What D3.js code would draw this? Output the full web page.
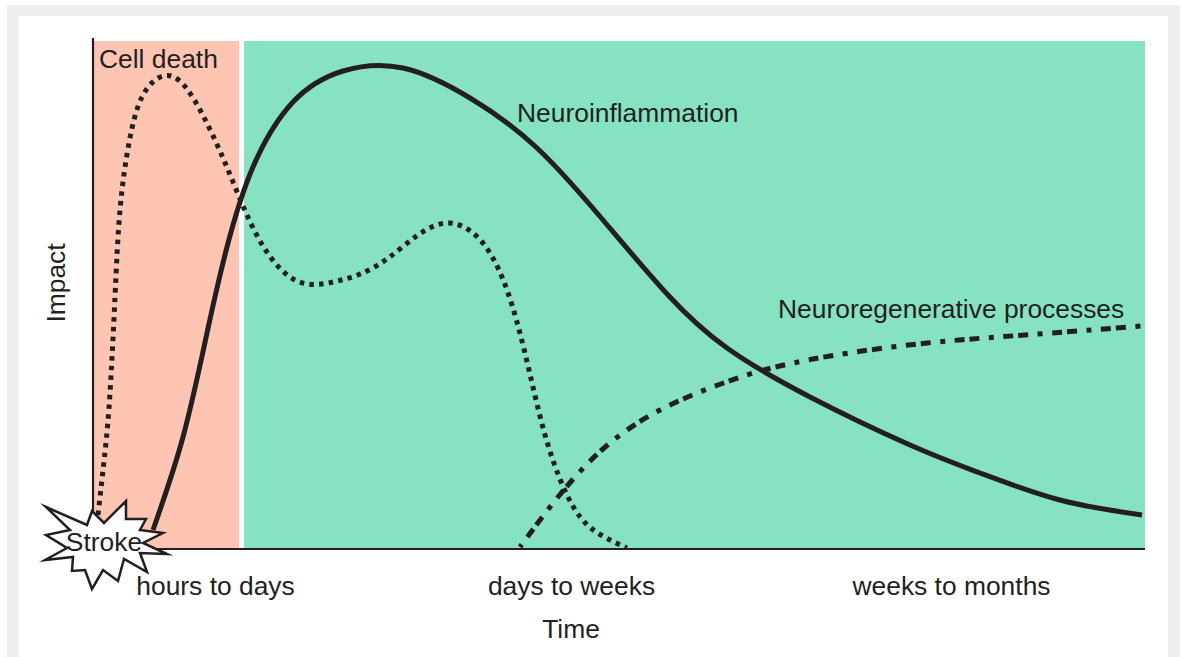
<!DOCTYPE html>
<html lang="en">
<head>
<meta charset="UTF-8" />
<title>Impact over time after stroke</title>
<script src="https://d3js.org/d3.v7.min.js"></script>
<style>
    html, body { margin: 0; padding: 0; background: #fff; }
    svg { display: block; }
    text { font-family: "Liberation Sans", Arial, sans-serif; fill: #231f20; }
</style>
</head>
<body>
<div id="my_dataviz"></div>
<script>
// values (time and impact are in arbitrary units)
var cellDeathT = [5, 12, 17, 22, 27, 36, 49, 70, 94, 122, 145, 170, 204, 240, 267, 294, 325, 354, 380, 401, 419, 436, 455, 481, 508, 534];
var cellDeathV = [34, 97, 156, 252, 339, 406, 452, 473, 460, 409, 355, 303, 268, 267, 275, 290, 314, 326, 316, 289, 244, 179, 104, 41, 14, 1];

var inflammationT = [60, 90, 114, 134, 160, 200, 250, 310, 377, 444, 510, 575, 634, 717, 817, 887, 967, 1049];
var inflammationV = [19, 112, 216, 302, 382, 447, 478, 481, 451, 401, 329, 254, 201, 152, 104, 76, 49, 34];

var regenT = [427, 465, 511, 567, 625, 671, 737, 834, 932, 1048];
var regenV = [2, 52, 101, 139, 164, 179, 193, 206, 214, 223];

var regionNames = ["acute", "chronic"];
var regionStart = [1, 151];
var regionEnd = [146, 1052];
var regionColors = ["#fec5b3", "#87e2c1"];

var phaseLabels = ["hours to days", "days to weeks", "weeks to months"];
var phaseAt = [122, 478, 858];

// burst outline around the stroke label
var burstT = [-47, -6, -1, 11, 33, 33, 53, 47, 70, 50, 74, 47, 54, 31, 25, 10, -1, -8, -21, -20, -48, -26, -47, -23];
var burstV = [42, 24, 38, 26, 48, 30, 30, 19, 16, 6, -5, -4, -23, -10, -32, -21, -40, -21, -22, -8, -11, 1, 14, 19];

var width = 1185, height = 657;
var margin = { top: 41, right: 40, bottom: 108, left: 93 };
var chartWidth = width - margin.left - margin.right;
var chartHeight = height - margin.top - margin.bottom;

var svg = d3.select("#my_dataviz").append("svg")
    .attr("width", width)
    .attr("height", height);

// page frame
svg.append("rect").attr("x", 7).attr("y", 5).attr("width", 1173).attr("height", 652).attr("fill", "#eeeeee");
svg.append("rect").attr("x", 19).attr("y", 16).attr("width", 1149).attr("height", 641).attr("fill", "#fff");

var g = svg.append("g").attr("transform", `translate(${margin.left}, ${margin.top})`);

var x = d3.scaleLinear().domain([0, 1052]).range([0, chartWidth]);
var y = d3.scaleLinear().domain([0, 508]).range([chartHeight, 0]);
var phase = d3.scaleOrdinal().domain(phaseLabels).range(phaseAt.map(function (d) { return x(d); }));

g.selectAll("rect.region")
    .data(regionNames)
    .enter().append("rect")
    .attr("class", "region")
    .attr("x", function (d, i) { return x(regionStart[i]); })
    .attr("y", y(508))
    .attr("width", function (d, i) { return x(regionEnd[i]) - x(regionStart[i]); })
    .attr("height", y(0) - y(508))
    .attr("fill", function (d, i) { return regionColors[i]; });

var line = d3.line()
    .x(function (d) { return x(d[0]); })
    .y(function (d) { return y(d[1]); })
    .curve(d3.curveNatural);

function drawCurve(ts, vs, w, dash, offset) {
    g.append("path")
        .datum(d3.zip(ts, vs))
        .attr("fill", "none")
        .attr("stroke", "#231f20")
        .attr("stroke-width", w)
        .attr("stroke-dasharray", dash)
        .attr("stroke-dashoffset", offset || 0)
        .attr("d", line);
}
drawCurve(cellDeathT, cellDeathV, 5, "4.5 5.2");
drawCurve(regenT, regenV, 5, "5 9.5 10 5 10 9.5", 2);
drawCurve(inflammationT, inflammationV, 5, null);

// axes
var xAxis = g.append("g")
    .attr("transform", `translate(0, ${chartHeight})`)
    .call(d3.axisBottom(phase).tickSize(0).tickPadding(27));
xAxis.select(".domain").attr("d", `M0,0H${chartWidth}`).attr("stroke", "#231f20").attr("stroke-width", 2.2);
xAxis.selectAll("text").attr("font-size", 26.4);

var yAxis = g.append("g").call(d3.axisLeft(y).tickValues([]).tickSize(0));
yAxis.select(".domain").attr("d", `M0,${chartHeight}V-3`).attr("stroke", "#231f20").attr("stroke-width", 2.2);

// stroke burst
var burst = d3.line()
    .x(function (d) { return x(d[0]); })
    .y(function (d) { return y(d[1]); });
g.append("path")
    .datum(d3.zip(burstT, burstV))
    .attr("d", function (d) { return burst(d) + "Z"; })
    .attr("fill", "#fff")
    .attr("stroke", "#231f20")
    .attr("stroke-width", 2.5)
    .attr("stroke-miterlimit", 10);

// labels
function label(t, px, py, anchor) {
    return g.append("text")
        .attr("x", x(px))
        .attr("y", y(py))
        .attr("font-size", 26.4)
        .attr("text-anchor", anchor || "start")
        .text(t);
}
label("Cell death", 6, 481);
label("Neuroinflammation", 424, 427);
label("Neuroregenerative processes", 685, 231);
label("Stroke", 11, -2, "middle");
label("Time", 478, -89, "middle");

g.append("text")
    .attr("transform", `translate(${x(-28)}, ${y(266)}) rotate(-90)`)
    .attr("text-anchor", "middle")
    .attr("font-size", 26.4)
    .text("Impact");
</script>
</body>
</html>
